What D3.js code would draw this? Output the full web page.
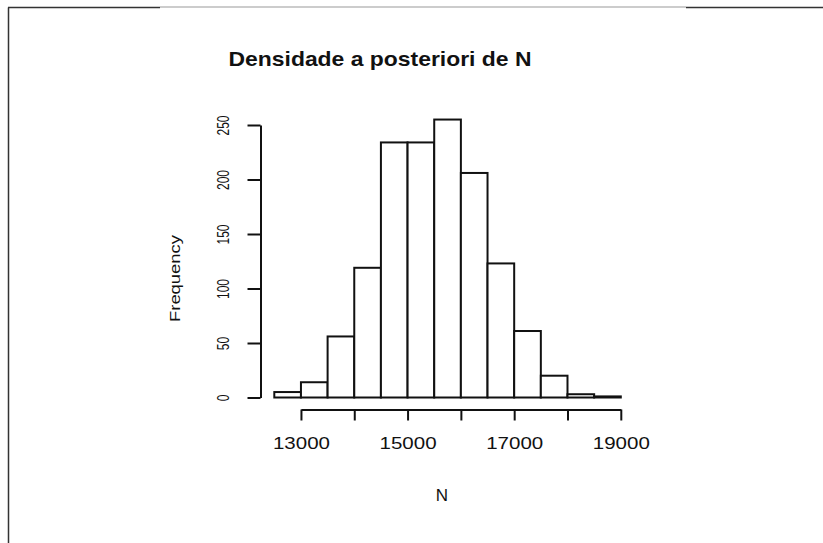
<!DOCTYPE html>
<html>
<head>
<meta charset="utf-8">
<script src="https://cdn.jsdelivr.net/npm/d3@7"></script>
<style>
  html, body { margin: 0; padding: 0; background: #fff; }
  svg { display: block; }
</style>
</head>
<body>
<script>
// Posterior draws of N, binned in steps of 500
const binStarts = [12500, 13000, 13500, 14000, 14500, 15000, 15500, 16000, 16500, 17000, 17500, 18000, 18500];
const binWidth = 500;
const counts = [5, 14, 56, 119, 234, 234, 255, 206, 123, 61, 20, 3, 1];
const xTickValues = [13000, 14000, 15000, 16000, 17000, 18000, 19000];
const xTickLabels = ["13000", "", "15000", "", "17000", "", "19000"];
const yTickValues = [0, 50, 100, 150, 200, 250];

const W = 823, H = 543;
const svg = d3.select("body").append("svg").attr("width", W).attr("height", H);

// outer frame
svg.append("line").attr("x1", 8.5).attr("y1", 7.5).attr("x2", 8.5).attr("y2", H)
  .attr("stroke", "#333").attr("stroke-width", 1.5);
svg.append("line").attr("x1", 8).attr("y1", 7.5).attr("x2", 160).attr("y2", 7.5)
  .attr("stroke", "#333").attr("stroke-width", 1.5);
svg.append("line").attr("x1", 160).attr("y1", 7).attr("x2", 686).attr("y2", 7)
  .attr("stroke", "#999").attr("stroke-width", 1.2);
svg.append("line").attr("x1", 686).attr("y1", 7.5).attr("x2", W).attr("y2", 7.5)
  .attr("stroke", "#333").attr("stroke-width", 1.5);

const x = d3.scaleLinear().domain([12500, 19000]).range([274.3, 620.8]);
const y = d3.scaleLinear().domain([0, 250]).range([397.5, 125]);

// histogram bars
svg.append("g").selectAll("rect")
  .data(binStarts.map((s, i) => ({ s, c: counts[i] })))
  .join("rect")
  .attr("x", d => x(d.s))
  .attr("y", d => y(d.c))
  .attr("width", d => x(d.s + binWidth) - x(d.s))
  .attr("height", d => y(0) - y(d.c))
  .attr("fill", "#fff")
  .attr("stroke", "#111")
  .attr("stroke-width", 2);

// x axis (drawn below the bars, spanning 13000..19000)
const xAxisScale = d3.scaleLinear().domain([13000, 19000]).range([x(13000), x(19000)]);
const gx = svg.append("g").attr("transform", "translate(0,409.5)")
  .call(d3.axisBottom(xAxisScale).tickValues(xTickValues)
    .tickFormat((d, i) => xTickLabels[i]).tickSize(11).tickSizeOuter(0));
gx.select(".domain").attr("stroke", "#111").attr("stroke-width", 2);
gx.selectAll(".tick line").attr("stroke", "#111").attr("stroke-width", 2);
gx.selectAll(".tick text")
  .attr("y", 0).attr("dy", 0)
  .attr("transform", "translate(0,39.5)")
  .attr("font-family", "Liberation Sans, Arial, sans-serif")
  .attr("font-size", 17)
  .attr("fill", "#111")
  .each(function () {
    if (this.textContent) d3.select(this).attr("textLength", 57).attr("lengthAdjust", "spacingAndGlyphs");
  });

// y axis
const gy = svg.append("g").attr("transform", "translate(260.5,0)")
  .call(d3.axisLeft(y).tickValues(yTickValues).tickSize(13).tickSizeOuter(0));
gy.select(".domain").attr("stroke", "#111").attr("stroke-width", 2);
gy.selectAll(".tick line").attr("stroke", "#111").attr("stroke-width", 2);
gy.selectAll(".tick text")
  .attr("x", null).attr("dy", null)
  .attr("text-anchor", "middle")
  .attr("transform", "translate(-32,0) rotate(-90)")
  .attr("font-family", "Liberation Sans, Arial, sans-serif")
  .attr("font-size", 17)
  .attr("fill", "#111")
  .attr("textLength", function () { return this.textContent.length * 6.7; })
  .attr("lengthAdjust", "spacingAndGlyphs");

// title
svg.append("text")
  .attr("x", 380).attr("y", 66)
  .attr("text-anchor", "middle")
  .attr("font-family", "Liberation Sans, Arial, sans-serif")
  .attr("font-weight", "bold")
  .attr("font-size", 21)
  .attr("textLength", 303).attr("lengthAdjust", "spacingAndGlyphs")
  .attr("fill", "#111")
  .text("Densidade a posteriori de N");

// axis titles
svg.append("text")
  .attr("transform", "translate(180,278.5) rotate(-90)")
  .attr("text-anchor", "middle")
  .attr("font-family", "Liberation Sans, Arial, sans-serif")
  .attr("font-size", 15)
  .attr("textLength", 87).attr("lengthAdjust", "spacingAndGlyphs")
  .attr("fill", "#111")
  .text("Frequency");

svg.append("text")
  .attr("x", 442).attr("y", 501)
  .attr("text-anchor", "middle")
  .attr("font-family", "Liberation Sans, Arial, sans-serif")
  .attr("font-size", 17)
  .attr("fill", "#111")
  .text("N");
</script>
</body>
</html>
